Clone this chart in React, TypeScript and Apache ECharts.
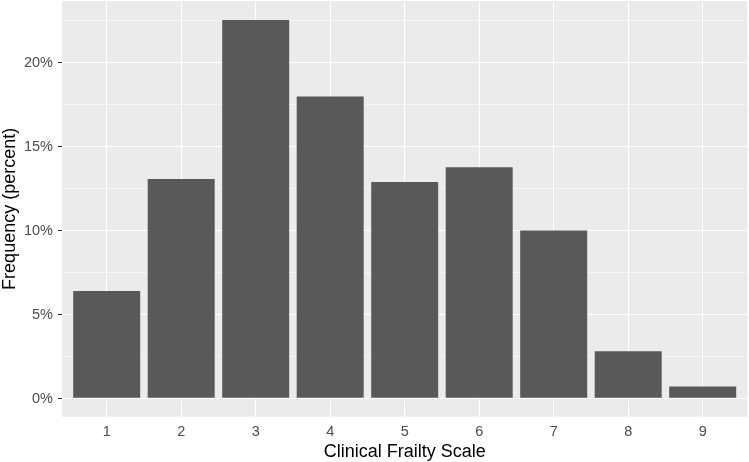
import React, { useEffect, useRef } from "react";
import * as echarts from "echarts";

const categories = [1, 2, 3, 4, 5, 6, 7, 8, 9];
const frequency = [6.37, 13.04, 22.53, 17.97, 12.86, 13.75, 9.97, 2.77, 0.68];
const yTicks = [0, 5, 10, 15, 20];
const yMinor = [2.5, 7.5, 12.5, 17.5, 22.5];

const FONT = "'Liberation Sans', Arial, Helvetica, sans-serif";

export default function App() {
  const ref = useRef<HTMLDivElement>(null);
  useEffect(() => {
    if (!ref.current) return;
    const chart = echarts.init(ref.current, undefined, { renderer: "svg" });
    const ymax = Math.max(...frequency);
    const pad = ymax * 0.05;
    chart.setOption({
      animation: false,
      textStyle: { fontFamily: FONT },
      grid: {
        left: 62,
        right: 1.6,
        top: 1,
        bottom: 45.3,
        show: true,
        backgroundColor: "#EBEBEB",
        borderWidth: 0,
        containLabel: false,
        outerBoundsMode: "none",
      },
      xAxis: {
        type: "value",
        min: 0.4,
        max: 9.6,
        name: "Clinical Frailty Scale",
        nameLocation: "middle",
        nameGap: 25,
        nameMoveOverlap: false,
        nameTextStyle: { fontSize: 18, color: "#000", fontFamily: FONT },
        axisLine: { show: false },
        axisTick: {
          show: true,
          customValues: categories,
          length: 4,
          lineStyle: { color: "#333333", width: 1.07 },
        },
        axisLabel: {
          customValues: categories,
          margin: 7,
          fontSize: 14.5,
          color: "#4D4D4D",
          fontFamily: FONT,
        },
        splitLine: { show: false },
      },
      yAxis: {
        type: "value",
        min: -pad,
        max: ymax + pad,
        name: "Frequency (percent)",
        nameLocation: "middle",
        nameGap: 44,
        nameMoveOverlap: false,
        nameTextStyle: { fontSize: 18, color: "#000", fontFamily: FONT },
        axisLine: { show: false },
        axisTick: {
          show: true,
          customValues: yTicks,
          length: 4,
          lineStyle: { color: "#333333", width: 1.07 },
        },
        axisLabel: {
          customValues: yTicks,
          margin: 9,
          fontSize: 14.5,
          color: "#4D4D4D",
          fontFamily: FONT,
          formatter: (v: number) => `${v}%`,
        },
        splitLine: { show: false },
      },
      series: [
        {
          type: "line",
          data: [],
          silent: true,
          markLine: {
            silent: true,
            symbol: "none",
            animation: false,
            label: { show: false },
            emphasis: { disabled: true },
            data: [
              ...yMinor.map((v) => ({
                yAxis: v,
                lineStyle: { color: "#FFFFFF", width: 0.53, type: "solid" },
              })),
              ...yTicks.map((v) => ({
                yAxis: v,
                lineStyle: { color: "#FFFFFF", width: 1.07, type: "solid" },
              })),
              ...categories.map((c) => ({
                xAxis: c,
                lineStyle: { color: "#FFFFFF", width: 1.07, type: "solid" },
              })),
            ],
          },
        },
        {
          type: "bar",
          z: 10,
          barWidth: 67,
          itemStyle: { color: "#595959" },
          data: categories.map((c, i) => [c, frequency[i]]),
        },
      ],
    });
    return () => chart.dispose();
  }, []);
  return (
    <div
      ref={ref}
      style={{ position: "fixed", left: 0, top: 0, width: 749, height: 462 }}
    />
  );
}
